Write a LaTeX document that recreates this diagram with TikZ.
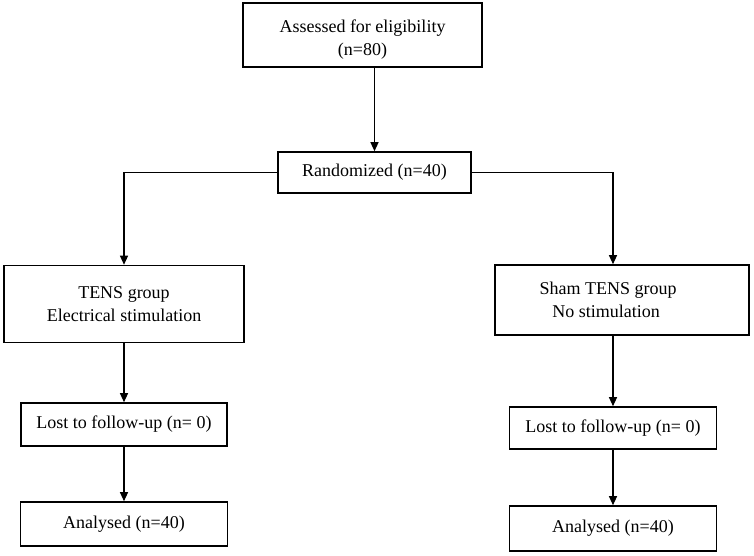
\documentclass[tikz,border=0pt]{standalone}
\usepackage{fontspec}
\setmainfont{Liberation Serif}
\usetikzlibrary{arrows.meta,positioning}

\begin{document}
\begin{tikzpicture}[x=1pt,y=-1pt,every node/.style={draw,line width=1.6pt,align=center,inner sep=0pt,font=\fontsize{18}{23}\selectfont},arr/.style={-{Triangle[width=8pt,length=9pt]},line width=1.2pt}]
      \useasboundingbox (0,0) rectangle (754,555);
      \node[minimum width=239pt,minimum height=64pt] (elig) at (362.5,35) {\rule{0pt}{22pt}Assessed for eligibility\\(n=80)};
      \node[minimum width=193pt,minimum height=41pt] (rand) at (374.5,172.5) {Randomized (n=40)};
      \node[minimum width=240pt,minimum height=77pt] (tens) at (124,304) {TENS group\\Electrical stimulation};
      \node[minimum width=254pt,minimum height=70pt] (sham) at (622,300) {Sham TENS group\hspace*{28pt}\\No stimulation\hspace*{32pt}};
      \node[minimum width=206pt,minimum height=43pt] (lostl) at (124,424.5) {Lost to follow-up (n= 0)};
      \node[minimum width=207pt,minimum height=44pt] (anal) at (124,524) {Analysed (n=40)};
      \node[minimum width=207pt,minimum height=42pt] (lostr) at (613,428) {Lost to follow-up (n= 0)};
      \node[minimum width=207pt,minimum height=45pt] (anar) at (613,528.5) {Analysed (n=40)};
      \draw[arr] (rand.north |- elig.south) -- (rand.north);
      \draw[arr] (rand.west) -| (tens.north);
      \draw[arr] (rand.east) -| (lostr.north |- sham.north);
      \draw[arr] (lostr.north |- sham.south) -- (lostr.north);
      \foreach \x/\y in {tens/lostl,lostl/anal,lostr/anar}{\draw[arr] (\x)--(\y);}
    \end{tikzpicture}
\end{document}
